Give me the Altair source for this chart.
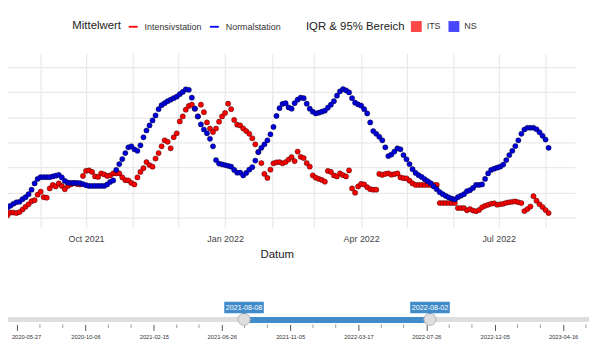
import altair as alt
import pandas as pd

# ---------------- data ----------------
stations = ["Intensivstation", "Normalstation"]
bereiche = ["ITS", "NS"]
start_date = "2021-08-08"
n_points = 181  # one value every 2 days

its_values = [
    1.6, 0.8, 2.0, 2.0, 1.8, 2.2, 3.2, 4.3, 5.3, 6.5, 6.9, 9.1, 10.3, 8.1, 7.9, 11.6, 13.0, 12.4, 13.6, 12.6,
    11.3, 12.6, 13.2, 13.7, 13.4, 13.2, 16.6, 18.6, 18.8, 18.2, 16.4, 16.2, 17.6, 17.2, 16.6, 16.8, 17.6, 17.6, 17.6, 16.0,
    14.9, 14.8, 13.8, 13.2, 16.0, 18.2, 19.7, 22.1, 20.9, 20.3, 23.5, 25.7, 28.4, 30.8, 30.2, 27.6, 32.0, 33.6, 38.3, 40.3,
    43.0, 44.5, 45.0, 43.4, 40.3, 45.0, 42.0, 37.9, 35.5, 34.1, 35.5, 38.2, 40.3, 41.7, 45.4, 43.2, 38.9, 37.0, 36.7, 35.5,
    34.5, 33.4, 31.6, 29.2, 26.1, 21.7, 17.4, 15.8, 19.1, 21.6, 22.0, 22.1, 21.6, 22.1, 23.1, 24.1, 22.5, 26.3, 24.2, 23.7,
    21.7, 20.3, 16.8, 15.9, 15.4, 15.0, 14.3, 18.6, 18.2, 16.8, 16.4, 17.6, 16.9, 16.4, 18.8, 11.6, 9.9, 12.4, 13.4, 13.2,
    12.1, 11.3, 11.1, 11.1, 17.4, 17.0, 17.4, 17.6, 17.1, 17.3, 17.6, 16.0, 15.7, 15.6, 14.7, 13.6, 13.0, 13.0, 13.0, 13.0,
    13.0, 13.0, 13.0, 13.0, 5.8, 5.8, 5.8, 5.8, 5.8, 5.8, 3.8, 3.8, 3.8, 2.9, 3.4, 2.8, 2.5, 3.0, 4.1, 4.7,
    5.1, 5.5, 5.7, 5.1, 5.3, 5.5, 5.9, 6.1, 6.3, 6.4, 6.1, 5.8, 2.6, 3.4, 4.4, 8.5, 6.7, 5.3, 4.2, 3.0,
    1.8,
]

ns_values = [
    2.8, 3.9, 4.7, 5.5, 6.1, 6.3, 7.3, 8.1, 9.3, 11.1, 13.6, 15.4, 16.1, 16.1, 16.1, 16.1, 16.4, 16.7, 17.0, 16.0,
    14.6, 13.9, 13.8, 13.8, 13.8, 13.7, 13.3, 12.9, 12.6, 12.6, 12.6, 12.6, 12.6, 12.6, 13.2, 14.2, 14.8, 19.0, 21.3, 23.3,
    25.7, 28.0, 28.4, 27.2, 26.6, 28.8, 32.0, 34.7, 36.7, 38.7, 40.7, 43.2, 44.8, 45.6, 46.4, 47.0, 47.6, 48.2, 49.2, 50.1,
    51.1, 50.9, 47.8, 43.4, 40.3, 37.1, 35.1, 33.6, 31.4, 28.4, 22.9, 21.5, 21.2, 20.9, 20.6, 20.3, 19.0, 17.9, 17.9, 16.8,
    17.8, 19.1, 20.1, 22.7, 26.1, 27.8, 29.2, 30.8, 33.2, 36.1, 40.5, 43.6, 45.3, 45.6, 43.9, 43.4, 45.6, 47.0, 47.8, 47.6,
    45.4, 43.4, 42.2, 41.5, 41.8, 42.2, 42.6, 43.8, 45.0, 46.4, 48.6, 50.3, 51.2, 50.7, 49.9, 47.6, 45.8, 45.1, 44.6, 43.2,
    41.5, 37.9, 34.5, 33.4, 32.2, 30.8, 28.0, 24.5, 25.1, 26.3, 27.6, 27.2, 24.9, 23.2, 21.3, 19.3, 17.8, 16.9, 16.2, 15.3,
    14.5, 13.7, 12.4, 11.3, 10.1, 9.3, 8.6, 8.0, 7.5, 7.2, 8.1, 8.7, 9.3, 10.5, 10.9, 11.8, 13.0, 13.0, 13.2, 15.4,
    17.6, 19.0, 19.5, 19.9, 20.3, 21.1, 22.9, 24.9, 26.6, 28.5, 30.8, 33.4, 35.1, 35.8, 35.8, 35.8, 35.2, 34.0, 32.6, 31.1,
    27.8,
]

y_grid = [0, 10, 20, 30, 40, 50, 60]

# range slider (date selection widget under the chart)
slider_range = ["2020-03-13", "2023-06-05"]
slider_selected = ["2021-08-08", "2022-08-02"]
slider_major = ["2020-05-27", "2020-10-06", "2021-02-15", "2021-06-26", "2021-11-05",
                "2022-03-17", "2022-07-26", "2022-12-05", "2023-04-16"]
slider_minor = ["2020-04-13", "2020-07-10", "2020-08-23", "2020-11-19", "2021-01-02", "2021-03-31",
                "2021-05-13", "2021-08-09", "2021-09-22", "2021-12-19", "2022-02-01", "2022-04-30",
                "2022-06-12", "2022-09-08", "2022-10-22", "2023-01-18", "2023-03-03", "2023-05-30"]

# ---------------- tables ----------------
dates = pd.date_range(start_date, periods=n_points, freq="2D")
df = pd.DataFrame({
    "Datum": list(dates) + list(dates),
    "Wert": its_values + ns_values,
    "Station": [stations[0]] * n_points + [stations[1]] * n_points,
})
empty_mittel = pd.DataFrame({"Mittelwert": pd.Series([], dtype="object")})
empty_bereich = pd.DataFrame({"Bereich": pd.Series([], dtype="object")})

FONT = "Liberation Sans"

x_scale = alt.Scale(domain=[alt.DateTime(year=2021, month=7, date=21, hours=18),
                            alt.DateTime(year=2022, month=8, date=20, hours=14)])
month_vals = [alt.DateTime(year=2021 + (8 + i - 1) // 12, month=(8 + i - 1) % 12 + 1, date=1) for i in range(13)]

x_axis = alt.Axis(values=month_vals,
                  labelExpr="month(datum.value) % 3 == 0 ? timeFormat(datum.value, '%b %Y') : ''",
                  grid=True, gridColor="#e9e9e9", gridWidth=1.2, ticks=False, domain=False,
                  labelFontSize=9, labelColor="#444", labelPadding=7, labelOverlap=False, labelFlush=False,
                  title="Datum", titleFontSize=11.5, titleFontWeight="normal", titleColor="#222",
                  titlePadding=5, labelFont=FONT, titleFont=FONT)
y_axis = alt.Axis(values=y_grid, grid=True, gridColor="#e9e9e9", gridWidth=1.2, labels=False,
                  ticks=False, domain=False, title=None)

# point colours: domain listed in reverse order so this (legend-less) scale is not merged
# with the "Mittelwert" legend scale below
points = alt.Chart(df).mark_point(filled=True, shape="circle", size=28, stroke="black", strokeOpacity=0.55,
                                  strokeWidth=0.7, opacity=1).encode(
    x=alt.X("Datum:T", scale=x_scale, axis=x_axis),
    y=alt.Y("Wert:Q", scale=alt.Scale(domain=[-3.95, 65.5], nice=False, zero=False), axis=y_axis),
    color=alt.Color("Station:N", scale=alt.Scale(domain=stations[::-1], range=["#0000dd", "#ff0000"]),
                    legend=None),
)

legend_common = dict(orient="none", direction="horizontal", titleOrient="left", titleFont=FONT,
                     titleFontSize=11.5, titleFontWeight="normal", titleColor="#222", labelFont=FONT,
                     labelFontSize=9, labelColor="#333", padding=0)

leg_line = alt.Chart(empty_mittel).mark_point(shape="stroke", filled=False, strokeWidth=1.8, opacity=1).encode(
    stroke=alt.Stroke("Mittelwert:N", scale=alt.Scale(domain=stations, range=["#ff0000", "#0000ff"]),
                      legend=alt.Legend(title="Mittelwert", legendX=95, legendY=-32.5, symbolType="stroke",
                                        symbolSize=81, symbolStrokeWidth=1.8, labelOffset=6,
                                        columnPadding=4, titlePadding=6, **legend_common)),
)
leg_square = alt.Chart(empty_bereich).mark_square(size=121, opacity=1).encode(
    fill=alt.Fill("Bereich:N", scale=alt.Scale(domain=bereiche, range=["#ff4747", "#4747ff"]),
                  legend=alt.Legend(title="IQR & 95% Bereich", legendX=331, legendY=-32.5, symbolType="square",
                                    symbolSize=121, symbolStrokeWidth=0, labelOffset=5,
                                    columnPadding=7, titlePadding=6, **legend_common)),
)

main = alt.layer(points, leg_line, leg_square).properties(width=603, height=176)

# ---------------- slider ----------------
track_df = pd.DataFrame({"a": [pd.Timestamp(slider_range[0])], "b": [pd.Timestamp(slider_range[1])]})
sel_df = pd.DataFrame({"a": [pd.Timestamp(slider_selected[0])], "b": [pd.Timestamp(slider_selected[1])]})
handle_df = pd.DataFrame({"d": [pd.Timestamp(s) for s in slider_selected], "lbl": slider_selected})
minor_df = pd.DataFrame({"d": [pd.Timestamp(s) for s in slider_minor]})

s_scale = alt.Scale(domain=[alt.DateTime(year=2020, month=3, date=13), alt.DateTime(year=2023, month=6, date=5)])
s_axis = alt.Axis(values=[alt.DateTime(year=int(s[:4]), month=int(s[5:7]), date=int(s[8:])) for s in slider_major],
                  format="%Y-%m-%d", labelOverlap=False, labelFlush=False, tickSize=6, tickColor="#555",
                  domain=False, grid=False, labelFontSize=5.8, labelColor="#333", labelPadding=3,
                  labelOffset={"condition": {"test": "datum.value < datetime(2020, 6, 1)", "value": 9}, "value": 0},
                  labelFont=FONT, title=None)

track = alt.Chart(track_df).mark_rule(strokeWidth=5, color="#dedede").encode(
    x=alt.X("a:T", scale=s_scale, axis=s_axis), x2="b:T", y=alt.value(21))
sel = alt.Chart(sel_df).mark_rule(strokeWidth=6, color="#428bca").encode(
    x="a:T", x2="b:T", y=alt.value(21.5))
minor = alt.Chart(minor_df).mark_rule(color="#999", strokeWidth=1).encode(
    x="d:T", y=alt.value(26), y2=alt.value(29.5))
handles = alt.Chart(handle_df).mark_circle(size=150, color="#dedede", stroke="#b5b5b5",
                                           strokeWidth=1, opacity=1).encode(x="d:T", y=alt.value(20.8))
bubbles = alt.Chart(handle_df).mark_point(shape="M-1,-0.29L1,-0.29L1,0.29L-1,0.29Z", size=1600,
                                          filled=True, color="#428bca", opacity=1).encode(
    x="d:T", y=alt.value(8.8))
pointer = alt.Chart(handle_df).mark_point(shape="triangle-down", size=14, filled=True,
                                          color="#428bca", opacity=1).encode(x="d:T", y=alt.value(14.5))
btext = alt.Chart(handle_df).mark_text(color="white", fontSize=7.2, font=FONT, baseline="middle").encode(
    x="d:T", y=alt.value(8.9), text="lbl:N")

slider = alt.layer(track, minor, sel, handles, pointer, bubbles, btext).properties(width=617, height=26)

chart = alt.vconcat(main, slider, spacing=39).properties(
    padding={"left": -33, "top": 11, "right": 0, "bottom": 0}, background="white"
).configure(font=FONT).configure_view(stroke=None)

chart.save("out.html", embed_options={"renderer": "svg", "actions": False})
